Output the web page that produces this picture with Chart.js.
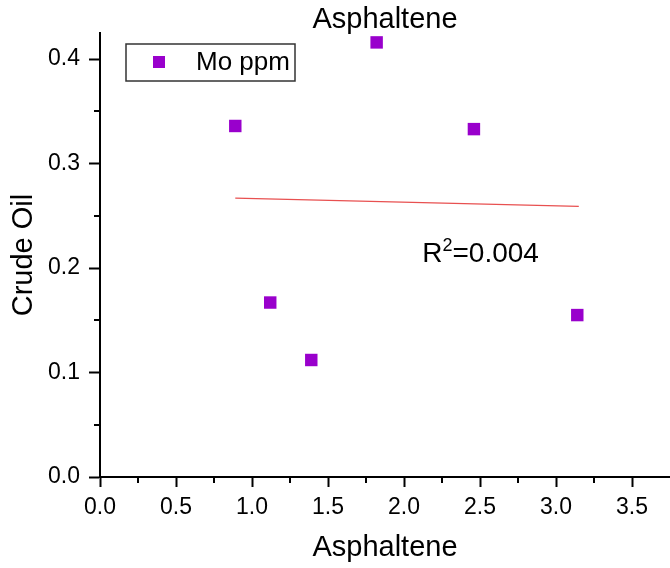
<!DOCTYPE html>
<html lang="en">
<head>
    <meta charset="UTF-8">
    <script src="https://cdn.jsdelivr.net/npm/chart.js"></script>
    <title>Asphaltene</title>
    <style>
        body { margin: 0; background: #fff; }
    </style>
</head>
<body>
    <canvas id="grafico" width="670" height="568"></canvas>

<script>
    // dados
    var asfalteno = [0.89, 1.12, 1.39, 1.82, 2.46, 3.14];
    var moPpm = [0.336, 0.167, 0.112, 0.416, 0.333, 0.155];

    // reta de ajuste (extremos)
    var ajusteX = [0.89, 3.15];
    var ajusteY = [0.267, 0.259];

    var ticksX = [0, 0.5, 1.0, 1.5, 2.0, 2.5, 3.0, 3.5];
    var ticksY = [0, 0.1, 0.2, 0.3, 0.4];
    var menoresX = [0.25, 0.75, 1.25, 1.75, 2.25, 2.75, 3.25];
    var menoresY = [0.05, 0.15, 0.25, 0.35];

    var roxo = 'rgb(153, 0, 204)';
    var fonte = 'Liberation Sans, Arial, sans-serif';

    var pontos = [];
    for (var i = 0; i < asfalteno.length; i++) {
        pontos.push({ x: asfalteno[i], y: moPpm[i] });
    }
    var reta = [];
    for (var j = 0; j < ajusteX.length; j++) {
        reta.push({ x: ajusteX[j], y: ajusteY[j] });
    }

    // titulo, ticks menores, legenda com moldura e texto do R2
    const extras = {
        id: 'extras',
        afterDraw(chart) {
            const ctx = chart.ctx;
            const sx = chart.scales.x;
            const sy = chart.scales.y;
            ctx.save();

            // titulo centralizado na area do grafico
            ctx.fillStyle = '#000';
            ctx.font = '29px ' + fonte;
            ctx.textAlign = 'center';
            ctx.textBaseline = 'middle';
            ctx.fillText('Asphaltene', (chart.chartArea.left + chart.chartArea.right) / 2, 19.5);

            ctx.strokeStyle = '#000';
            ctx.lineWidth = 2;
            ctx.beginPath();
            menoresX.forEach(function (v) {
                var px = Math.round(sx.getPixelForValue(v));
                ctx.moveTo(px, sy.bottom);
                ctx.lineTo(px, sy.bottom + 6);
            });
            menoresY.forEach(function (v) {
                var py = Math.round(sy.getPixelForValue(v));
                ctx.moveTo(sx.left, py);
                ctx.lineTo(sx.left - 6, py);
            });
            ctx.stroke();

            // legenda
            ctx.strokeStyle = '#333';
            ctx.lineWidth = 1.5;
            ctx.strokeRect(126, 44, 169, 37);
            ctx.fillStyle = roxo;
            ctx.fillRect(153, 56, 12, 12);
            ctx.fillStyle = '#000';
            ctx.font = '26px ' + fonte;
            ctx.textBaseline = 'middle';
            ctx.textAlign = 'left';
            ctx.fillText(chart.data.datasets[0].label, 196, 63);

            // R2
            var rx = sx.getPixelForValue(2.12);
            var ry = sy.getPixelForValue(0.206);
            ctx.textBaseline = 'alphabetic';
            ctx.font = '28px ' + fonte;
            ctx.fillText('R', rx, ry);
            var w = ctx.measureText('R').width;
            ctx.font = '18px ' + fonte;
            ctx.fillText('2', rx + w, ry - 11);
            var w2 = ctx.measureText('2').width;
            ctx.font = '28px ' + fonte;
            ctx.fillText('=0.004', rx + w + w2, ry);
            ctx.restore();
        }
    };

    const config = {
        type: 'scatter',
        data: {
            datasets: [{
                label: 'Mo ppm',
                data: pontos,
                pointStyle: 'rect',
                pointRadius: 8.8,
                pointHoverRadius: 8.8,
                backgroundColor: roxo,
                borderColor: roxo,
                borderWidth: 0
            },
            {
                label: 'ajuste',
                type: 'line',
                data: reta,
                borderColor: 'rgb(232, 80, 80)',
                borderWidth: 1.3,
                pointRadius: 0,
                fill: false
            }]
        },
        options: {
            responsive: false,
            animation: false,
            layout: { autoPadding: false, padding: { top: 33, left: 0, right: 0, bottom: 0 } },
            plugins: {
                legend: { display: false },
                tooltip: { enabled: false },
                title: { display: false }
            },
            scales: {
                x: {
                    type: 'linear',
                    min: 0,
                    max: 3.75,
                    afterBuildTicks: function (scale) {
                        scale.ticks = ticksX.map(function (v) { return { value: v }; });
                    },
                    afterFit: function (scale) {
                        scale.height = 91;
                        scale.paddingLeft = 0;
                        scale.paddingRight = 0;
                    },
                    border: { color: '#000', width: 2 },
                    grid: { drawOnChartArea: false, tickLength: 10, tickColor: '#000', tickWidth: 2 },
                    ticks: {
                        color: '#000',
                        padding: 7,
                        maxRotation: 0,
                        font: { family: fonte, size: 23 },
                        callback: function (v) { return v.toFixed(1); }
                    },
                    title: {
                        display: true,
                        text: 'Asphaltene',
                        color: '#000',
                        font: { family: fonte, size: 29, lineHeight: 1.2 },
                        padding: { top: 0, bottom: 3 }
                    }
                },
                y: {
                    type: 'linear',
                    min: 0,
                    max: 0.425,
                    afterBuildTicks: function (scale) {
                        scale.ticks = ticksY.map(function (v) { return { value: v }; });
                    },
                    afterFit: function (scale) {
                        scale.width = 100;
                        scale.paddingTop = 0;
                        scale.paddingBottom = 0;
                    },
                    border: { color: '#000', width: 2 },
                    grid: { drawOnChartArea: false, tickLength: 11, tickColor: '#000', tickWidth: 2 },
                    ticks: {
                        color: '#000',
                        padding: 9,
                        font: { family: fonte, size: 23 },
                        callback: function (v) { return v.toFixed(1); }
                    },
                    title: {
                        display: true,
                        text: 'Crude Oil',
                        color: '#000',
                        font: { family: fonte, size: 29, lineHeight: 1.2 },
                        padding: { top: 7, bottom: 0 }
                    }
                }
            }
        },
        plugins: [extras]
    };

    var meuGrafico = new Chart(document.getElementById('grafico'), config);
</script>
</body>
</html>
